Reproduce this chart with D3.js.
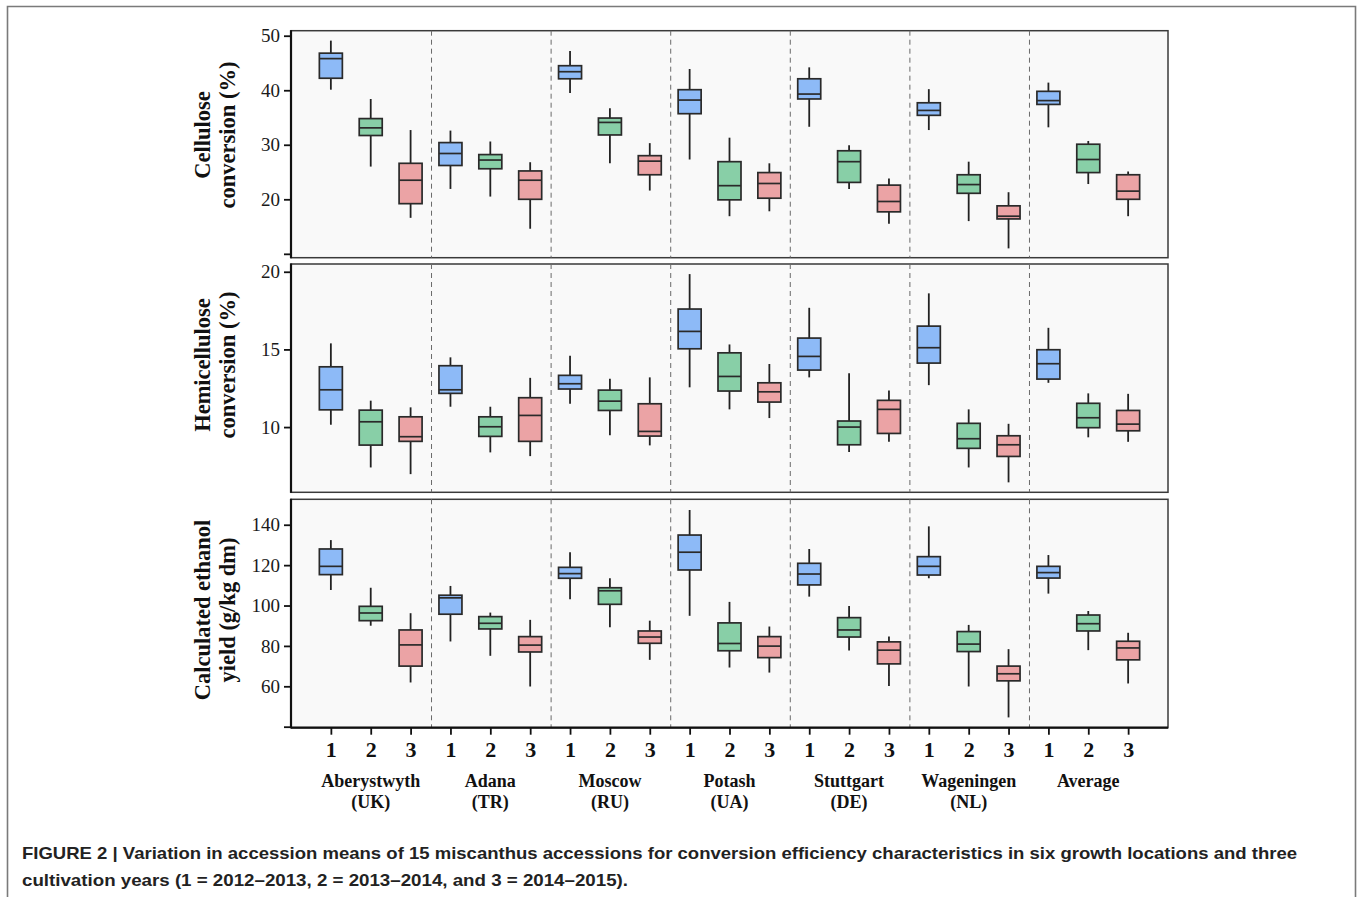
<!DOCTYPE html>
<html><head><meta charset="utf-8">
<script src="https://cdn.jsdelivr.net/npm/d3@7"></script>
<style>body{margin:0;background:#fff}svg{display:block}</style>
</head><body>
<svg id="c" width="1358" height="897"></svg>
<script>
// ---- data ----
const locations = ["Aberystwyth", "Adana", "Moscow", "Potash", "Stuttgart", "Wageningen", "Average"];
const locationCodes = ["(UK)", "(TR)", "(RU)", "(UA)", "(DE)", "(NL)", ""];
const years = ["1", "2", "3"];
const yearColors = ["#8dbaf7", "#88cfa7", "#eba3a5"];

// [whisker low, Q1, median, Q3, whisker high] per location x year
const celluloseStats = [
  [40.1, 42.2, 45.8, 46.8, 49.1], [26.0, 31.7, 33.1, 34.8, 38.4], [16.6, 19.2, 23.5, 26.6, 32.7],
  [21.9, 26.2, 28.4, 30.4, 32.6], [20.5, 25.6, 27.2, 28.2, 30.6], [14.6, 20.0, 23.5, 25.2, 26.8],
  [39.5, 42.1, 43.4, 44.5, 47.2], [26.6, 31.8, 34.1, 34.9, 36.7], [21.6, 24.5, 27.0, 28.0, 30.3],
  [27.3, 35.7, 38.2, 40.1, 43.9], [16.9, 19.9, 22.5, 26.9, 31.3], [17.8, 20.2, 22.9, 24.9, 26.6],
  [33.3, 38.4, 39.3, 42.1, 44.2], [21.9, 23.1, 26.9, 28.9, 29.9], [15.5, 17.7, 19.6, 22.6, 23.8],
  [32.7, 35.4, 36.3, 37.7, 40.2], [16.0, 21.1, 22.7, 24.5, 26.9], [11.0, 16.4, 16.9, 18.8, 21.3],
  [33.2, 37.4, 38.1, 39.8, 41.4], [22.8, 24.9, 27.3, 30.1, 30.7], [16.9, 20.0, 21.5, 24.5, 25.1]
];
const hemicelluloseStats = [
  [10.15, 11.11, 12.40, 13.88, 15.39], [7.40, 8.84, 10.34, 11.09, 11.70], [6.97, 9.08, 9.38, 10.66, 11.27],
  [11.31, 12.17, 12.40, 13.95, 14.49], [8.37, 9.40, 10.02, 10.66, 11.31], [8.13, 9.08, 10.75, 11.89, 13.17],
  [11.50, 12.45, 12.79, 13.33, 14.59], [9.47, 11.07, 11.67, 12.38, 13.11], [8.82, 9.42, 9.72, 11.50, 13.20],
  [12.56, 15.04, 16.16, 17.60, 19.85], [11.14, 12.32, 13.26, 14.78, 15.32], [10.58, 11.61, 12.27, 12.85, 14.06],
  [13.20, 13.67, 14.55, 15.73, 17.68], [8.39, 8.86, 10.00, 10.39, 13.46], [9.05, 9.59, 11.14, 11.72, 12.36],
  [12.70, 14.12, 15.11, 16.50, 18.61], [7.40, 8.63, 9.25, 10.24, 11.14], [6.44, 8.11, 8.86, 9.44, 10.21],
  [12.85, 13.09, 14.08, 14.98, 16.39], [9.34, 9.96, 10.60, 11.53, 12.17], [9.05, 9.76, 10.19, 11.07, 12.14]
];
const ethanolStats = [
  [107.7, 115.3, 119.4, 128.0, 132.4], [90.0, 92.5, 96.3, 99.6, 108.8], [61.9, 70.0, 80.5, 87.9, 96.2],
  [82.2, 95.7, 103.8, 105.1, 109.7], [75.1, 88.4, 91.2, 94.5, 96.5], [59.9, 77.0, 80.4, 84.6, 92.9],
  [103.1, 113.5, 115.8, 118.9, 126.4], [89.2, 100.6, 107.3, 108.8, 113.5], [73.1, 81.3, 84.4, 87.4, 92.5],
  [94.9, 117.6, 126.4, 134.9, 147.3], [69.3, 77.6, 81.2, 91.4, 101.8], [66.8, 74.2, 79.9, 84.6, 89.6],
  [104.4, 110.2, 115.6, 120.9, 128.0], [77.7, 84.4, 87.9, 94.0, 99.8], [60.2, 71.1, 77.9, 82.0, 84.6],
  [113.5, 115.1, 119.4, 124.2, 139.2], [59.9, 77.2, 80.9, 87.1, 90.4], [44.6, 62.7, 66.2, 70.0, 78.4],
  [105.9, 113.6, 116.3, 119.4, 125.0], [77.9, 87.4, 91.0, 95.3, 97.3], [61.4, 73.1, 79.0, 82.3, 86.5]
];
const celluloseTicks = [10, 20, 30, 40, 50];
const celluloseLabels = ["", "20", "30", "40", "50"];
const hemiTicks = [10, 15, 20];
const hemiLabels = ["10", "15", "20"];
const ethanolTicks = [40, 60, 80, 100, 120, 140];
const ethanolLabels = ["", "60", "80", "100", "120", "140"];
const captionLines = [
  "FIGURE 2 | Variation in accession means of 15 miscanthus accessions for conversion efficiency characteristics in six growth locations and three",
  "cultivation years (1 = 2012\u20132013, 2 = 2013\u20132014, and 3 = 2014\u20132015)."
];

// ---- layout ----
const svg = d3.select("#c");
const L = 291, R = 1168;
const serif = "'Liberation Serif', 'Times New Roman', serif";
const cats = [];
locations.forEach((loc, i) => years.forEach((y, j) => cats.push({key: loc + "-" + y, loc: i, year: j})));
const x = d3.scalePoint().domain(cats.map(d => d.key)).range([L, R]).padding(1);

const panels = [
  {stats: celluloseStats, ticks: celluloseTicks, labels: celluloseLabels, domain: [9.29, 50.92], top: 30.7, bottom: 257.7,
   title: ["Cellulose", "conversion (%)"], tcy: 135},
  {stats: hemicelluloseStats, ticks: hemiTicks, labels: hemiLabels, domain: [5.8, 20.5], top: 264, bottom: 492.3,
   title: ["Hemicellulose", "conversion (%)"], tcy: 365},
  {stats: ethanolStats, ticks: ethanolTicks, labels: ethanolLabels, domain: [39.5, 152.6], top: 499.3, bottom: 727.7,
   title: ["Calculated ethanol", "yield (g/kg dm)"], tcy: 610}
];

// figure border
svg.append("path").attr("d", "M7.5,897 V6.5 H1355.5 V897").attr("fill", "none").attr("stroke", "#7a7a7a").attr("stroke-width", 1.6);

panels.forEach((p, pi) => {
  const y = d3.scaleLinear().domain(p.domain).range([p.bottom, p.top]);
  const g = svg.append("g");
  g.append("rect").attr("x", L).attr("y", p.top).attr("width", R - L).attr("height", p.bottom - p.top)
    .attr("fill", "#f9f9f9").attr("stroke", "#3a3a3a").attr("stroke-width", 1.5);
  for (let k = 1; k < locations.length; k++) {
    const xs = (x(cats[k * 3 - 1].key) + x(cats[k * 3].key)) / 2 + 1;
    g.append("line").attr("x1", xs).attr("x2", xs).attr("y1", p.top).attr("y2", p.bottom)
      .attr("stroke", "#6a6a6a").attr("stroke-width", 1).attr("stroke-dasharray", "5,4");
  }
  const bw = 23;
  const bg = g.selectAll("g.box").data(p.stats).join("g").attr("class", "box");
  bg.append("line").attr("x1", (d, i) => x(cats[i].key)).attr("x2", (d, i) => x(cats[i].key))
    .attr("y1", d => y(d[0])).attr("y2", d => y(d[4])).attr("stroke", "#222").attr("stroke-width", 1.8);
  bg.append("rect").attr("x", (d, i) => x(cats[i].key) - bw / 2).attr("width", bw)
    .attr("y", d => y(d[3])).attr("height", d => y(d[1]) - y(d[3]))
    .attr("fill", (d, i) => yearColors[cats[i].year]).attr("stroke", "#2a2a2a").attr("stroke-width", 1.7);
  bg.append("line").attr("x1", (d, i) => x(cats[i].key) - bw / 2).attr("x2", (d, i) => x(cats[i].key) + bw / 2)
    .attr("y1", d => y(d[2])).attr("y2", d => y(d[2])).attr("stroke", "#2a2a2a").attr("stroke-width", 1.7);
  const ax = g.append("g").attr("transform", `translate(${L},0)`)
    .call(d3.axisLeft(y).tickValues(p.ticks).tickSize(7).tickPadding(4)
      .tickFormat((d, i) => p.labels[i]));
  ax.select(".domain").remove();
  ax.selectAll(".tick line").attr("stroke", "#111").attr("stroke-width", 1.8);
  ax.selectAll(".tick text").attr("font-family", serif).attr("font-size", 19).attr("fill", "#1a1a1a");
  g.append("line").attr("x1", L).attr("x2", L).attr("y1", p.top - 0.5).attr("y2", p.bottom + 0.5)
    .attr("stroke", "#111").attr("stroke-width", 2.2);
  if (pi === 2) {
    g.append("line").attr("x1", L).attr("x2", R).attr("y1", p.bottom).attr("y2", p.bottom)
      .attr("stroke", "#111").attr("stroke-width", 2.2);
  }
  const t = g.append("text").attr("transform", `translate(0,${p.tcy}) rotate(-90)`)
    .attr("text-anchor", "middle").attr("font-family", serif)
    .attr("font-weight", "bold").attr("font-size", 22.5).attr("fill", "#111");
  t.append("tspan").attr("x", 0).attr("y", 210).text(p.title[0]);
  t.append("tspan").attr("x", 0).attr("y", 235).text(p.title[1]);
});

const xa = svg.append("g").attr("transform", `translate(0,${panels[2].bottom})`)
  .call(d3.axisBottom(x).tickSize(7).tickPadding(7).tickFormat(k => years[cats.find(c => c.key === k).year]));
xa.select(".domain").remove();
xa.selectAll(".tick line").attr("stroke", "#111").attr("stroke-width", 1.8);
xa.selectAll(".tick text").attr("font-family", serif)
  .attr("font-weight", "bold").attr("font-size", 22).attr("fill", "#111");

locations.forEach((loc, i) => {
  const cx = x(cats[i * 3 + 1].key);
  const t = svg.append("text").attr("text-anchor", "middle")
    .attr("font-family", serif).attr("font-weight", "bold")
    .attr("font-size", 18).attr("fill", "#111");
  t.append("tspan").attr("x", cx).attr("y", 787).text(loc);
  if (locationCodes[i]) t.append("tspan").attr("x", cx).attr("y", 808).text(locationCodes[i]);
});

svg.append("text").attr("x", 22).attr("y", 859).attr("font-family", "'Liberation Sans', Arial, sans-serif")
  .attr("font-weight", "bold").attr("font-size", 17).attr("fill", "#222")
  .attr("textLength", 1275).attr("lengthAdjust", "spacingAndGlyphs").text(captionLines[0]);
svg.append("text").attr("x", 22).attr("y", 886).attr("font-family", "'Liberation Sans', Arial, sans-serif")
  .attr("font-weight", "bold").attr("font-size", 17).attr("fill", "#222")
  .attr("textLength", 606).attr("lengthAdjust", "spacingAndGlyphs").text(captionLines[1]);
</script>
</body></html>
